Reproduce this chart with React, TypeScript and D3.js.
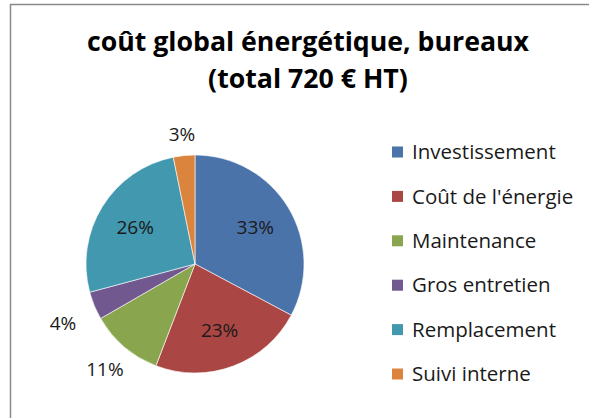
import React from 'react';
import * as d3 from 'd3';

const categories = ['Investissement', "Coût de l'énergie", 'Maintenance', 'Gros entretien', 'Remplacement', 'Suivi interne'];
// estimated amounts in € HT (total 720)
const values = [236, 166, 78, 30, 187, 23];
const colors = ['#4A73AA', '#AA4643', '#89A54E', '#71588F', '#4198AF', '#DB843D'];
const titleLines = ['coût global énergétique, bureaux', '(total 720 € HT)'];

const W = 589;
const H = 418;
const FONT = '"Open Sans", sans-serif';

export default function App() {
  const cx = 195;
  const cy = 264;
  const r = 109;
  const total = d3.sum(values);
  const pie = d3.pie<number>().sort(null).value((d) => d);
  const arcs = pie(values);
  const arc = d3.arc<d3.PieArcDatum<number>>().innerRadius(0).outerRadius(r);
  const fmt = (v: number) => `${Math.round((v / total) * 100)}%`;
  const labelFs = 19;

  const legendY = d3.scalePoint<string>().domain(categories).range([152, 374]);

  return (
    <svg width={W} height={H} style={{ position: 'absolute', left: 0, top: 0, background: '#fff' }}>
      <rect x={0} y={0} width={W} height={H} fill="#fff" />
      <path d={`M10.5,${H + 2} L10.5,4.5 L${W + 2},4.5`} fill="none" stroke="#8a8a8a" strokeWidth={1.5} />
      <g fontFamily={FONT} fontWeight="bold" fontSize={26.7} fill="#000" textAnchor="middle">
        {titleLines.map((t, i) => (
          <text key={i} x={308} y={51 + i * 37}>{t}</text>
        ))}
      </g>
      <g transform={`translate(${cx},${cy})`}>
        {arcs.map((a, i) => (
          <path key={i} d={arc(a) || ''} fill={colors[i]} stroke="#fff" strokeWidth={0.6} />
        ))}
        {arcs.map((a, i) => {
          const pct = a.data / total;
          const mid = (a.startAngle + a.endAngle) / 2;
          const dx = Math.sin(mid);
          const dy = -Math.cos(mid);
          const txt = fmt(a.data);
          const inside = pct >= 0.15;
          const lr = inside ? r * 0.645 : r + 20 + 15 * Math.abs(dx);
          const nudge = inside ? 0 : 6 * dx * dx * Math.sign(dy) * (pct < 0.06 ? 1 : 0);
          return (
            <text key={i} x={dx * lr} y={dy * lr + nudge} dy="0.35em" textAnchor="middle" fontFamily={FONT} fontSize={labelFs} fill="#1a1a1a">
              {txt}
            </text>
          );
        })}
      </g>
      <g fontFamily={FONT} fontSize={20.5} fill="#1a1a1a">
        {categories.map((c, i) => (
          <g key={c} transform={`translate(392,${legendY(c)})`}>
            <rect x={0} y={-5.5} width={11} height={11} fill={colors[i]} />
            <text x={20} y={0} dy="0.35em">{c}</text>
          </g>
        ))}
      </g>
    </svg>
  );
}
